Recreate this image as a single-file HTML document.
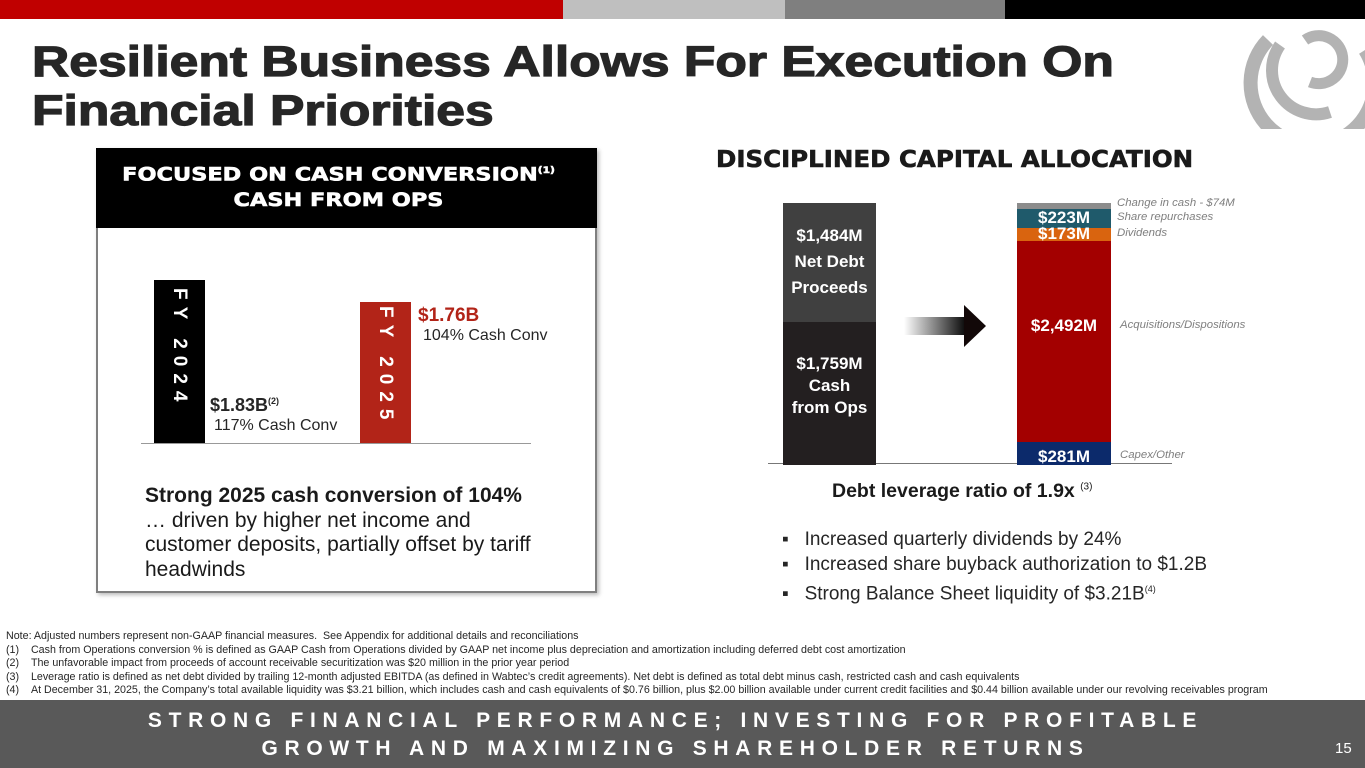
<!DOCTYPE html>
<html><head><meta charset="utf-8"><style>
*{margin:0;padding:0;box-sizing:border-box}
body{width:1365px;height:768px;position:relative;overflow:hidden;background:#fff;font-family:"Liberation Sans",Arial,sans-serif}
.a{position:absolute}
.b{font-weight:bold}
.it{font-style:italic;color:#7f7f7f;font-size:11.4px}
.w{color:#fff;font-weight:bold;text-align:center}
</style></head><body>
<div class="a" style="left:0;top:0;width:563px;height:19px;background:#c00000"></div>
<div class="a" style="left:563px;top:0;width:222px;height:19px;background:#bfbfbf"></div>
<div class="a" style="left:785px;top:0;width:220px;height:19px;background:#7f7f7f"></div>
<div class="a" style="left:1005px;top:0;width:360px;height:19px;background:#000"></div>
<svg class="a" style="left:1230px;top:19px" width="135" height="110" viewBox="1230 19 135 110">
<g fill="none" stroke="#b3b3b3">
<path d="M1268 40 A62 62 0 1 0 1365 50" stroke-width="14"/>
<path d="M1280 45 A44 44 0 0 0 1330 112" stroke-width="12"/>
<path d="M1305 40 A24 24 0 1 1 1310 82" stroke-width="11"/>
</g></svg>
<div class="a b" style="left:32px;top:38px;font-size:43px;line-height:49px;color:#262626;transform:scaleX(1.2);transform-origin:0 0;-webkit-text-stroke:1.2px #262626;white-space:nowrap">Resilient Business Allows For Execution On<br>Financial Priorities</div>

<div class="a" style="left:96px;top:148px;width:501px;height:445px;border:2px solid #7f7f7f;box-shadow:2px 2px 4px #bbb"></div>
<div class="a" style="left:96px;top:148px;width:501px;height:80px;background:#000"></div>
<div class="a w" style="left:88px;top:158px;width:501px;font-size:19px;line-height:26px;font-family:'DejaVu Sans',sans-serif;transform:scaleX(1.18);-webkit-text-stroke:0.6px #fff;white-space:nowrap">FOCUSED ON CASH CONVERSION<sup style="font-size:9px">(1)</sup><br>CASH FROM OPS</div>
<div class="a" style="left:141px;top:443px;width:390px;height:1px;background:#999"></div>
<div class="a" style="left:154px;top:280px;width:51px;height:163px;background:#000"></div>
<div class="a w" style="left:154px;top:288px;width:51px;font-size:19px;writing-mode:vertical-rl;line-height:51px;letter-spacing:7px">FY 2024</div>
<div class="a" style="left:360px;top:302px;width:51px;height:141px;background:#b22418"></div>
<div class="a w" style="left:360px;top:306px;width:51px;font-size:19px;writing-mode:vertical-rl;line-height:51px;letter-spacing:7px">FY 2025</div>
<div class="a b" style="left:210px;top:395px;font-size:18px;color:#262626">$1.83B<sup style="font-size:9px">(2)</sup></div>
<div class="a" style="left:214px;top:417px;font-size:16px;color:#262626">117% Cash Conv</div>
<div class="a b" style="left:418px;top:305px;font-size:19px;color:#b22418">$1.76B</div>
<div class="a" style="left:423px;top:327px;font-size:16px;color:#262626">104% Cash Conv</div>
<div class="a" style="left:145px;top:484px;font-size:21px;line-height:24.5px;color:#1a1a1a;white-space:nowrap"><b>Strong 2025 cash conversion of 104%</b><br>… driven by higher net income and<br>customer deposits, partially offset by tariff<br>headwinds</div>

<div class="a b" style="left:716px;top:147px;font-size:23px;color:#1a1a1a;font-family:'DejaVu Sans',sans-serif;transform:scaleX(1.065);transform-origin:0 0;-webkit-text-stroke:0.6px #1a1a1a;white-space:nowrap">DISCIPLINED CAPITAL ALLOCATION</div>
<div class="a" style="left:768px;top:463px;width:404px;height:1px;background:#777"></div>
<div class="a" style="left:783px;top:203px;width:93px;height:119px;background:#404040"></div>
<div class="a" style="left:783px;top:322px;width:93px;height:143px;background:#231f20"></div>
<div class="a w" style="left:783px;top:225px;width:93px;font-size:17px;line-height:22px">$1,484M<br><span style="line-height:30px">Net Debt</span><br>Proceeds</div>
<div class="a w" style="left:783px;top:353px;width:93px;font-size:17px;line-height:22px">$1,759M<br>Cash<br>from Ops</div>
<svg class="a" style="left:904px;top:305px" width="84" height="42"><defs><linearGradient id="g"><stop offset="0" stop-color="#fff"/><stop offset="1" stop-color="#000"/></linearGradient></defs><rect x="0" y="12" width="64" height="18" fill="url(#g)"/><polygon points="60,0 82,21 60,42" fill="#120808"/></svg>
<div class="a" style="left:1017px;top:203px;width:94px;height:6px;background:#8c8c8c"></div>
<div class="a" style="left:1017px;top:209px;width:94px;height:19px;background:#1f5a6b"></div>
<div class="a" style="left:1017px;top:228px;width:94px;height:13px;background:#d9640f"></div>
<div class="a" style="left:1017px;top:241px;width:94px;height:201px;background:#a30000"></div>
<div class="a" style="left:1017px;top:442px;width:94px;height:23px;background:#0c2a6b"></div>
<div class="a w" style="left:1017px;top:208px;width:94px;font-size:17px;line-height:19px">$223M</div>
<div class="a w" style="left:1017px;top:224px;width:94px;font-size:17px;line-height:19px">$173M</div>
<div class="a w" style="left:1017px;top:316px;width:94px;font-size:17px;line-height:19px">$2,492M</div>
<div class="a w" style="left:1017px;top:447px;width:94px;font-size:17px;line-height:19px">$281M</div>
<div class="a it" style="left:1117px;top:197px">Change in cash - $74M</div>
<div class="a it" style="left:1117px;top:211px">Share repurchases</div>
<div class="a it" style="left:1117px;top:227px">Dividends</div>
<div class="a it" style="left:1120px;top:319px">Acquisitions/Dispositions</div>
<div class="a it" style="left:1120px;top:449px">Capex/Other</div>
<div class="a b" style="left:832px;top:480px;font-size:19.5px;color:#1a1a1a">Debt leverage ratio of 1.9x <sup style="font-size:10px;font-weight:normal">(3)</sup></div>
<div class="a" style="left:782px;top:527px;font-size:19px;line-height:25px;color:#262626;white-space:nowrap">
<div>▪&nbsp;&nbsp;&nbsp;Increased quarterly dividends by 24%</div>
<div>▪&nbsp;&nbsp;&nbsp;Increased share buyback authorization to $1.2B</div>
<div>▪&nbsp;&nbsp;&nbsp;Strong Balance Sheet liquidity of $3.21B<sup style="font-size:9px">(4)</sup></div></div>

<div class="a" style="left:6px;top:630px;font-size:10.7px;line-height:13.5px;color:#262626;white-space:nowrap">
<div>Note: Adjusted numbers represent non-GAAP financial measures.&nbsp; See Appendix for additional details and reconciliations</div>
<div>(1)&nbsp;&nbsp;&nbsp;&nbsp;Cash from Operations conversion % is defined as GAAP Cash from Operations divided by GAAP net income plus depreciation and amortization including deferred debt cost amortization</div>
<div>(2)&nbsp;&nbsp;&nbsp;&nbsp;The unfavorable impact from proceeds of account receivable securitization was $20 million in the prior year period</div>
<div>(3)&nbsp;&nbsp;&nbsp;&nbsp;Leverage ratio is defined as net debt divided by trailing 12-month adjusted EBITDA (as defined in Wabtec’s credit agreements). Net debt is defined as total debt minus cash, restricted cash and cash equivalents</div>
<div>(4)&nbsp;&nbsp;&nbsp;&nbsp;At December 31, 2025, the Company’s total available liquidity was $3.21 billion, which includes cash and cash equivalents of $0.76 billion, plus $2.00 billion available under current credit facilities and $0.44 billion available under our revolving receivables program</div></div>

<div class="a" style="left:0;top:700px;width:1365px;height:68px;background:#595959"></div>
<div class="a w" style="left:0;top:707px;width:1365px;font-size:21px;line-height:28px;letter-spacing:6.7px;padding-right:14px">STRONG FINANCIAL PERFORMANCE; INVESTING FOR PROFITABLE<br>GROWTH AND MAXIMIZING SHAREHOLDER RETURNS</div>
<div class="a" style="left:1335px;top:740px;font-size:15px;color:#fff">15</div>
</body></html>
